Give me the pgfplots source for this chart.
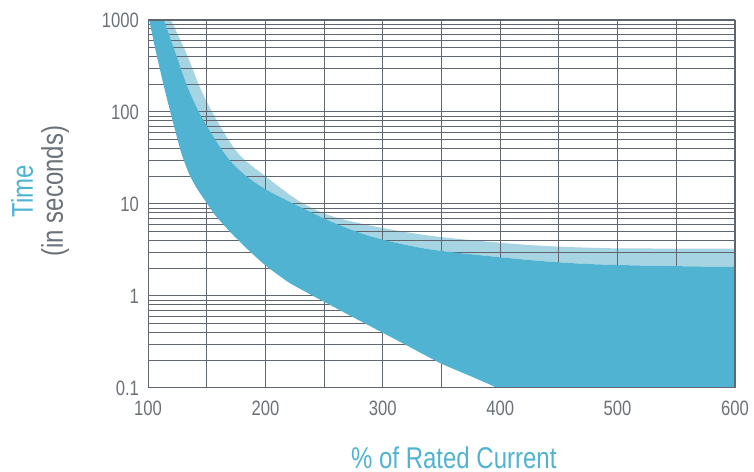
\documentclass[border=0pt]{standalone}
\usepackage{fontspec}
\setmainfont{Liberation Sans}[FakeStretch=0.8]
\usepackage{pgfplots}
\pgfplotsset{compat=1.18}
\usepgfplotslibrary{fillbetween}

\definecolor{band}{HTML}{4FB3D1}
\definecolor{bandlight}{HTML}{A6D4E2}
\definecolor{gridgray}{HTML}{5F6670}
\definecolor{labelgray}{HTML}{6B7178}

\begin{document}
\begin{tikzpicture}
\begin{axis}[
  set layers,
  scale only axis,
  width=293.5pt, height=184pt,
  xmin=100, xmax=600,
  ymode=log, ymin=0.1, ymax=1000,
  xtick={100,200,...,600},
  minor xtick={150,250,...,550},
  ytick={0.1,1,10,100,1000},
  yticklabels={0.1,1,10,100,1000},
  grid=both,
  grid style={gridgray, line width=0.5pt},
  major grid style={gridgray, line width=0.5pt},
  minor grid style={gridgray, line width=0.5pt},
  major tick length=0pt, minor tick length=0pt,
  axis line style={draw=none},
  /pgf/number format/assume math mode=true,
  tick label style={font=\fontsize{10.4}{12}\selectfont, text=labelgray},
  xticklabel style={yshift=-3pt},
  yticklabel style={xshift=-1pt},
  xlabel={\% of Rated Current},
  xlabel style={at={(axis description cs:0.521,-0.19)}, anchor=center,
    font=\fontsize{15}{15}\selectfont, text=band},
  ylabel={\textcolor{band}{Time}\\(in seconds)},
  ylabel style={at={(axis description cs:-0.184,0.535)}, anchor=center,
    align=center, font=\fontsize{15}{15}\selectfont, text=labelgray},
  edge/.style={draw=none, smooth, tension=0.5},
]

% light band, upper edge
\addplot[edge, name path=U1] coordinates {
  (119.5,1000) (132.7,435) (144,188) (156.8,89) (176.7,35.6)
  (200,20) (229.5,10.6) (257.6,7.3) (300,5.48) (349,4.38)
  (425,3.58) (485,3.32) (540,3.28) (600,3.28)
};
% dark band, upper edge
\addplot[edge, name path=U2] coordinates {
  (113.6,1000) (123.5,435) (133.5,190) (145.5,89) (165,35.6) (180,22)
  (200,14.5) (229.5,9.3) (257.6,6.3) (286,4.6) (315,3.7) (349,3.1)
  (425,2.46) (474,2.23) (530,2.13) (600,2.07)
};
% dark band, lower edge
\addplot[edge, tension=0.3, name path=L] coordinates {
  (101,1000) (107,435) (113.6,188) (120,89) (128.4,35.6) (135.5,20.5)
  (142,14.5) (149.5,10.5) (157,7.6) (171,4.8) (185,3.2) (200,2.15)
  (220,1.4) (242,0.98) (255,0.80) (270,0.632) (300,0.398) (315,0.316)
  (349,0.186) (375,0.134) (392,0.108) (400,0.1) (450,0.1) (600,0.1)
};

\addplot[bandlight, draw=none] fill between[of=U1 and U2, on layer=axis background];
\addplot[band, draw=none] fill between[of=U2 and L];

\draw[gridgray, line width=1.2pt] (rel axis cs:0,0) rectangle (rel axis cs:1,1);
\end{axis}
\pgfresetboundingbox
\path (current axis.south west) ++(-74pt,-42pt) coordinate (bb1);
\path (current axis.north east) ++(9.5pt,10pt) coordinate (bb2);
\path (bb1) rectangle (bb2);
\end{tikzpicture}
\end{document}
